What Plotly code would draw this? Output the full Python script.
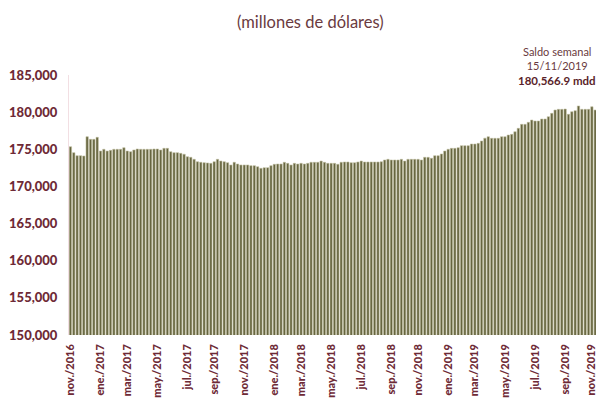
import datetime as dt
import plotly.graph_objects as go

# Weekly reserve balance (millions of USD), Fridays from 2016-11-04 to 2019-11-15
start_date = "2016-11-04"
values = [
    175350, 174550, 174140, 174140, 174100, 176700, 176340, 176340, 176610, 174770,
    175000, 174770, 174860, 175000, 175000, 175000, 175220, 174770, 174680, 174910,
    175040, 175000, 175000, 175000, 175000, 175040, 175040, 174910, 175130, 175130,
    174680, 174550, 174550, 174460, 174330, 174000, 173920, 173650, 173330, 173250,
    173200, 173160, 173110, 173330, 173650, 173420, 173330, 173200, 172890, 173250,
    173020, 172890, 172890, 172890, 172800, 172800, 172660, 172440, 172530, 172530,
    172800, 172980, 173020, 173020, 173250, 173110, 172890, 173110, 173020, 173110,
    173020, 173110, 173250, 173250, 173250, 173420, 173250, 173110, 173110, 173110,
    172980, 173250, 173290, 173290, 173200, 173200, 173290, 173420, 173290, 173290,
    173290, 173290, 173290, 173330, 173560, 173650, 173560, 173560, 173560, 173650,
    173420, 173650, 173650, 173650, 173650, 173560, 173920, 173920, 173790, 174140,
    174140, 174370, 174770, 175000, 175130, 175130, 175220, 175490, 175490, 175490,
    175710, 175710, 175800, 176120, 176500, 176700, 176480, 176480, 176480, 176700,
    176700, 176920, 177010, 177370, 177820, 178360, 178360, 178630, 178940, 178810,
    178810, 179080, 179080, 179390, 179840, 180290, 180380, 180380, 180420, 179710,
    180060, 180200, 180830, 180380, 180380, 180380, 180730, 180290, 180566.9,
]

tick_dates = [
    "2016-11-04", "2017-01-06", "2017-03-03", "2017-05-05", "2017-07-07",
    "2017-09-01", "2017-11-03", "2018-01-05", "2018-03-02", "2018-05-04",
    "2018-07-06", "2018-09-07", "2018-11-02", "2019-01-04", "2019-03-01",
    "2019-05-03", "2019-07-05", "2019-09-06", "2019-11-01",
]
tick_labels = [
    "nov./2016", "ene./2017", "mar./2017", "may./2017", "jul./2017",
    "sep./2017", "nov./2017", "ene./2018", "mar./2018", "may./2018",
    "jul./2018", "sep./2018", "nov./2018", "ene./2019", "mar./2019",
    "may./2019", "jul./2019", "sep./2019", "nov./2019",
]
y_ticks = [150000, 155000, 160000, 165000, 170000, 175000, 180000, 185000]

d0 = dt.date.fromisoformat(start_date)
dates = [d0 + dt.timedelta(days=7 * i) for i in range(len(values))]

maroon = "#6e2a36"

fig = go.Figure(
    go.Bar(
        x=dates,
        y=values,
        marker=dict(color="#66653f", line=dict(color="#c2c1a2", width=0.6)),
        hoverinfo="x+y",
    )
)

x_lo = dates[0] - dt.timedelta(days=3.6)
x_hi = dates[-1] + dt.timedelta(days=3.6)

# page body has an 8px margin; the figure is sized so that it fills the window
PW, PH = 531, 260


def px(X):
    return (X - 69) / PW


def py(Y):
    return (335 - Y) / PH


fig.update_layout(
    width=596,
    height=406,
    margin=dict(l=61, r=4, t=67, b=79, autoexpand=False),
    paper_bgcolor="white",
    plot_bgcolor="white",
    bargap=0.3,
    showlegend=False,
    font=dict(family="Lato, sans-serif", color=maroon),
    xaxis=dict(
        type="date",
        range=[x_lo, x_hi],
        tickvals=tick_dates,
        ticktext=tick_labels,
        tickangle=-90,
        tickfont=dict(size=11, color=maroon, family="Lato Black, Lato, sans-serif"),
        showgrid=False,
        showline=False,
        zeroline=False,
        ticks="",
        ticklabelstandoff=6,
    ),
    yaxis=dict(
        range=[150000, 185000],
        tickvals=y_ticks,
        tickformat=",",
        tickfont=dict(size=13, color=maroon, family="Lato Black, Lato, sans-serif"),
        showgrid=False,
        zeroline=False,
        showline=True,
        linecolor="#f2dfe3",
        linewidth=1,
        ticks="",
        ticklabelstandoff=8,
    ),
    annotations=[
        dict(
            text="(millones de dólares)",
            xref="paper", yref="paper",
            x=px(310), y=py(22),
            showarrow=False, xanchor="center", yanchor="middle",
            font=dict(size=16.5, color="#6a3a40", family="Lato, sans-serif"),
        ),
        dict(
            text="Saldo semanal<br>15/11/2019",
            xref="paper", yref="paper",
            x=px(557), y=py(58),
            showarrow=False, xanchor="center", yanchor="middle",
            font=dict(size=11, color="#6a3a40", family="Lato, sans-serif"),
        ),
        dict(
            text="<b>180,566.9 mdd</b>",
            xref="paper", yref="paper",
            x=px(557), y=py(80),
            showarrow=False, xanchor="center", yanchor="middle",
            font=dict(size=11.5, color="#5a1f2a", family="Lato, sans-serif"),
        ),
    ],
)

fig.write_html("out.html")
